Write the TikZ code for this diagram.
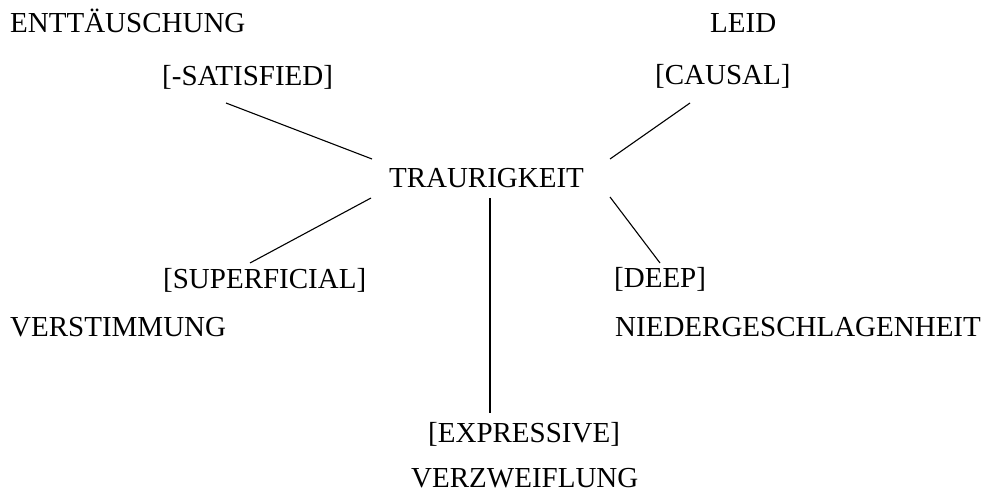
\documentclass[tikz,border=0pt]{standalone}
\usepackage{fontspec}
\setmainfont{Liberation Serif}
\begin{document}
\begin{tikzpicture}[x=1pt,y=-1pt,
  lbl/.style={inner sep=0pt,anchor=base west,font=\fontsize{29}{34}\selectfont},
  link/.style={line width=1.1pt}]
\useasboundingbox (0,0) rectangle (987,492);
\node[lbl] (ent) at (10,33) {ENTTÄUSCHUNG};
\node[lbl] (leid) at (710,33) {LEID};
\node[lbl] (sat) at (162,86) {[-SATISFIED]};
\node[lbl] (caus) at (655,85) {[CAUSAL]};
\node[lbl,anchor=base] (trau) at (486.5,187) {TRAURIGKEIT};
\node[lbl] (sup) at (163,288) {[SUPERFICIAL]};
\node[lbl] (verst) at (10,336) {VERSTIMMUNG};
\node[lbl] (deep) at (614,287) {[DEEP]};
\node[lbl] (nied) at (615,336) {NIEDERGESCHLAGENHEIT};
\node[lbl] (expr) at (428,442) {[EXPRESSIVE]};
\node[lbl] (verz) at (411,487) {VERZWEIFLUNG};
\coordinate (a1) at (226,103); \coordinate (a2) at (372,159);
\coordinate (b1) at (610,159); \coordinate (b2) at (690,103);
\coordinate (c1) at (371,198); \coordinate (c2) at (250,263);
\coordinate (d1) at (490,198); \coordinate (d2) at (490,413);
\coordinate (e1) at (610,197); \coordinate (e2) at (660,263);
\draw[link] (a1) -- (a2);
\draw[link] (b1) -- (b2);
\draw[link] (c1) -- (c2);
\draw[link] (d1) -- (d2);
\draw[link] (e1) -- (e2);
\end{tikzpicture}
\end{document}
